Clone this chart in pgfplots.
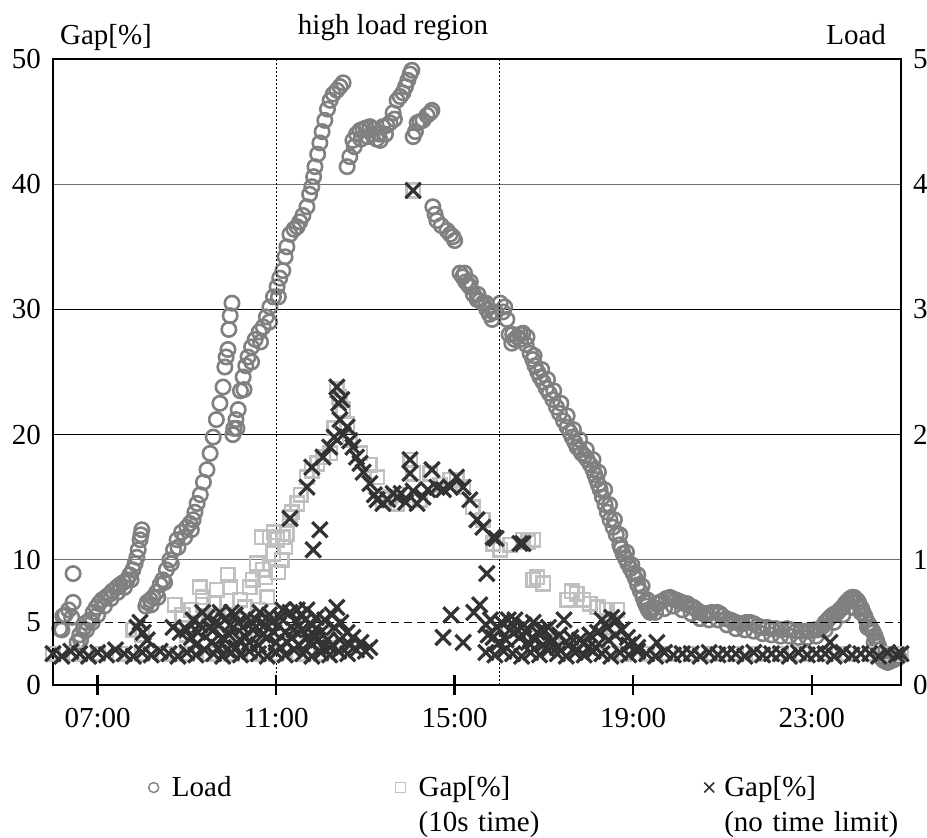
\documentclass[border=0pt]{standalone}
\usepackage{pgfplots}
\pgfplotsset{compat=1.18}
\usepackage{fontspec}
\setmainfont{Liberation Serif}
\definecolor{cLoad}{HTML}{808080}
\definecolor{cTen}{HTML}{C0C0C0}
\definecolor{cNo}{HTML}{333333}
\definecolor{cGrid}{HTML}{707070}
\newcommand{\fs}{\fontsize{14.5}{17.5}\selectfont}
\pgfplotsset{
  base/.style={scale only axis, width=424pt, height=313pt, xmin=6, xmax=25,
    /pgf/number format/assume math mode=true},
  loadst/.style={only marks, mark=o, color=cLoad, mark size=3.6pt, line width=1.3pt},
  tenst/.style={only marks, mark=square, color=cTen, mark size=3.4pt, line width=1.3pt},
  nost/.style={only marks, mark=x, color=cNo, mark size=5.4pt, line width=1.6pt},
  load legend/.style={legend image code/.code={\path (-4pt,0) (6.5pt,0); \draw[##1,mark size=2.5pt,line width=0.7pt] plot coordinates {(0pt,4.5pt)};}},
  ten legend/.style={legend image code/.code={\path (-4pt,0) (6.5pt,0); \draw[##1,mark size=2.5pt,line width=0.7pt] plot coordinates {(0pt,4.5pt)};}},
  no legend/.style={legend image code/.code={\path (-4pt,0) (4.75pt,0); \draw[##1,mark size=3.5pt,line width=0.8pt] plot coordinates {(0pt,4.5pt)};}},
}
\begin{document}
\begin{tikzpicture}[font=\fs]
% ---------- Load (right axis) ----------
\begin{axis}[base, ymin=0, ymax=5, hide x axis, axis y line*=right,
  ytick={0,1,2,3,4,5}, yticklabels={0,1,2,3,4,5}, ytick style={draw=none},
  yticklabel style={xshift=2.5pt}, axis line style={line width=0.8pt}]
\draw[cGrid, line width=0.6pt] (axis cs:6,1) -- (axis cs:25,1);
\draw[black, line width=0.5pt] (axis cs:6,2) -- (axis cs:25,2);
\draw[black, line width=0.5pt] (axis cs:6,3) -- (axis cs:25,3);
\draw[cGrid, line width=0.6pt] (axis cs:6,4) -- (axis cs:25,4);
\addplot[loadst] coordinates {
(6.15,0.45)(6.20,0.44)(6.22,0.55)(6.27,0.56)(6.35,0.60)(6.42,0.54)(6.45,0.66)(6.45,0.89)
(6.54,0.34)(6.60,0.40)(6.68,0.45)(6.75,0.50)(6.83,0.52)(6.90,0.58)(6.97,0.62)(7.03,0.65)
(7.10,0.68)(7.18,0.70)(7.25,0.72)(7.33,0.75)(7.43,0.78)(7.50,0.80)(7.58,0.82)(7.66,0.84)
(7.72,0.88)(7.79,0.92)(7.84,0.97)(7.88,1.02)(7.91,1.08)(7.95,1.16)(7.97,1.20)(7.99,1.24)
(6.62,0.36)(6.75,0.44)(6.88,0.50)(7.00,0.56)(7.15,0.63)(7.30,0.69)(7.45,0.74)(7.60,0.78)(7.75,0.84)
(8.08,0.63)(8.11,0.66)(8.18,0.68)(8.24,0.70)(8.32,0.74)(8.40,0.80)(8.46,0.84)(8.54,0.92)
(8.62,1.00)(8.70,1.08)(8.78,1.16)(8.88,1.22)(9.00,1.26)(9.07,1.29)(9.14,1.32)(9.18,1.38)
(8.20,0.64)(8.35,0.70)(8.50,0.82)(8.65,0.97)(8.80,1.10)(8.95,1.18)(9.10,1.24)
(9.23,1.45)(9.30,1.52)(9.37,1.62)(9.45,1.72)(9.52,1.85)(9.59,1.98)(9.66,2.12)(9.74,2.25)
(9.81,2.38)(9.85,2.54)(9.88,2.62)(9.92,2.68)(9.94,2.84)(9.97,2.95)(10.01,3.05)
(10.03,2.00)(10.05,2.05)(10.10,2.12)(10.15,2.20)(10.20,2.35)(10.26,2.46)(10.32,2.55)
(10.37,2.62)(10.45,2.70)(10.53,2.76)(10.62,2.82)(10.71,2.86)(10.78,2.94)(10.86,3.02)
(10.12,2.05)(10.28,2.36)(10.45,2.58)(10.65,2.74)(10.85,2.90)(11.05,3.10)
(10.94,3.10)(11.02,3.18)(11.08,3.25)(11.15,3.31)(11.20,3.42)(11.24,3.50)(11.31,3.60)
(11.40,3.64)(11.47,3.66)(11.53,3.70)(11.60,3.75)(11.69,3.82)(11.75,3.92)(11.80,3.98)
(11.84,4.06)(11.87,4.14)(11.93,4.24)(11.98,4.33)(12.03,4.42)(12.09,4.51)(12.15,4.60)
(12.21,4.67)(12.28,4.72)(12.36,4.75)(12.43,4.78)(12.50,4.81)
(12.59,4.14)(12.65,4.22)(12.72,4.35)(12.80,4.40)(12.88,4.43)(12.95,4.44)(13.02,4.45)
(13.10,4.46)(13.20,4.44)(13.30,4.40)(13.33,4.35)(13.39,4.46)(13.48,4.47)(13.55,4.49)
(12.75,4.30)(12.90,4.36)(13.05,4.38)(13.15,4.40)(13.25,4.36)(13.45,4.40)(13.65,4.52)
(13.62,4.57)(13.71,4.67)(13.78,4.70)(13.84,4.73)(13.90,4.78)(13.95,4.83)(14.00,4.88)(14.04,4.91)
(14.07,4.38)(14.12,4.42)(14.16,4.49)(14.22,4.50)(14.29,4.51)(14.38,4.55)(14.45,4.57)(14.49,4.59)
(14.51,3.82)(14.56,3.76)(14.60,3.71)(14.70,3.67)(14.83,3.63)(14.90,3.60)(14.96,3.58)(15.00,3.55)
(15.12,3.29)(15.18,3.26)(15.25,3.22)(15.30,3.20)(15.34,3.18)(15.42,3.12)(15.50,3.08)(15.56,3.07)
(15.63,3.05)(15.72,3.00)(15.78,2.96)(15.84,2.92)(15.92,2.98)(16.02,3.05)(16.08,2.98)(16.17,2.92)
(16.22,2.80)(16.28,2.73)(16.34,2.76)(16.40,2.78)(16.47,2.80)(16.53,2.81)(16.60,2.72)(16.69,2.65)
(16.75,2.60)(16.80,2.55)(16.86,2.50)(16.91,2.46)
(16.98,2.42)(17.05,2.37)(17.12,2.33)(17.20,2.28)(17.28,2.22)(17.35,2.17)(17.44,2.11)
(17.52,2.06)(17.58,2.02)(17.63,1.98)(17.69,1.94)(17.74,1.90)(17.80,1.88)(17.85,1.85)
(17.91,1.83)(17.97,1.80)(18.04,1.76)(18.10,1.72)(18.14,1.68)
(18.18,1.64)(18.22,1.60)(18.26,1.56)(18.31,1.50)(18.37,1.44)(18.42,1.38)(18.48,1.32)
(18.55,1.26)(18.62,1.20)(18.70,1.12)(18.73,1.09)
(18.77,1.05)(18.83,1.01)(18.88,0.97)(18.94,0.93)(19.00,0.89)(19.05,0.85)(19.10,0.80)
(19.16,0.75)(19.22,0.70)(19.26,0.66)(19.30,0.63)(19.34,0.60)(19.38,0.58)(19.45,0.62)
(15.22,3.29)(15.35,3.22)(15.52,3.12)(15.70,3.05)(15.85,2.98)(16.12,3.02)(16.30,2.80)
(16.48,2.76)(16.62,2.78)(16.78,2.63)(16.95,2.52)(17.08,2.44)(17.22,2.35)(17.38,2.25)
(17.52,2.15)(17.66,2.04)(17.80,1.96)(17.95,1.88)(18.10,1.80)(18.22,1.70)(18.36,1.56)
(18.47,1.44)(18.58,1.32)(18.70,1.20)(18.85,1.06)(18.97,0.96)(19.10,0.88)(19.20,0.79)
(19.32,0.68)(19.42,0.60)
(19.53,0.65)(19.59,0.66)(19.65,0.67)(19.74,0.69)(19.82,0.70)(19.88,0.69)(19.95,0.68)(20.02,0.67)
(20.08,0.66)(20.15,0.65)(20.21,0.65)(20.28,0.63)(20.35,0.62)(20.42,0.60)
(20.50,0.58)(20.57,0.57)(20.65,0.57)(20.76,0.58)(20.88,0.58)(20.94,0.57)(21.00,0.55)
(21.08,0.53)(21.17,0.52)(21.23,0.51)(21.30,0.50)(21.38,0.49)(21.45,0.49)(21.53,0.50)
(21.62,0.50)(21.70,0.49)(21.80,0.47)(21.90,0.46)(22.00,0.46)(22.10,0.45)(22.20,0.45)(22.32,0.44)
(22.45,0.45)(22.55,0.44)(22.65,0.43)(22.77,0.43)(22.89,0.43)(22.97,0.43)
(23.05,0.44)(23.12,0.44)(23.19,0.45)(23.25,0.47)(23.30,0.50)(23.36,0.52)(23.41,0.54)
(23.47,0.56)(23.52,0.57)(23.58,0.58)(23.63,0.60)(23.69,0.62)(23.75,0.65)(23.80,0.67)
(23.86,0.69)(23.90,0.70)(23.95,0.70)(24.01,0.68)(24.05,0.66)(24.08,0.63)(24.12,0.61)
(24.15,0.58)(24.19,0.55)(24.22,0.52)(24.27,0.49)(24.31,0.46)(24.35,0.44)
(24.38,0.42)(24.42,0.39)(24.46,0.35)(24.50,0.31)(24.53,0.28)(24.57,0.24)(24.60,0.20)
(24.65,0.19)(24.70,0.18)(24.76,0.19)(24.82,0.20)(24.88,0.21)(24.95,0.22)
(19.50,0.58)(19.70,0.61)(19.90,0.63)(20.10,0.60)(20.30,0.57)(20.50,0.53)(20.70,0.52)
(20.90,0.52)(21.10,0.48)(21.30,0.45)(21.50,0.44)(21.70,0.43)(21.90,0.41)(22.10,0.40)
(22.30,0.39)(22.50,0.39)(22.70,0.38)(22.90,0.38)(23.10,0.39)(23.30,0.44)(23.50,0.50)
(23.70,0.56)(23.90,0.62)(24.10,0.58)(24.25,0.46)(24.40,0.34)(24.55,0.22)
};
\end{axis}
% ---------- Gap (left axis) ----------
\begin{axis}[base, ymin=0, ymax=50,
  ytick={0,5,10,20,30,40,50}, yticklabels={0,5,10,20,30,40,50},
  ytick pos=left, ytick style={draw=none}, yticklabel style={xshift=2.5pt},
  xtick={7,11,15,19,23}, xticklabels={07:00,11:00,15:00,19:00,23:00},
  xticklabel style={yshift=-3pt},
  xtick pos=bottom, tick align=center, major tick length=10pt,
  xtick style={line width=1.2pt, black},
  axis line style={line width=0.8pt},
  legend columns=3,
  legend style={draw=none, fill=none, inner sep=0pt, column sep=0pt,
    at={(0,0)}, anchor=north west, xshift=45.5pt, yshift=-43.5pt,
    cells={anchor=base west, inner sep=0pt}}]
\addlegendimage{loadst, load legend}
\addlegendentry[text width=107.5pt]{Load}
\addplot[tenst, ten legend] coordinates {
(6.0,2.5)(6.5,2.5)(7.0,2.5)(7.5,2.5)(8.0,2.5)(8.5,2.5)(9.0,2.5)(9.5,2.5)(10.0,2.5)(10.5,2.5)
(11.0,2.5)(11.5,2.5)(12.0,2.5)(18.8,2.5)(19.3,2.5)(19.8,2.5)(20.3,2.5)(20.8,2.5)(21.3,2.5)
(21.8,2.5)(22.3,2.5)(22.8,2.5)(23.3,2.5)(23.8,2.5)(24.3,2.5)(24.7,2.5)(25.0,2.5)
(7.8,4.4)(8.0,4.0)(8.73,6.4)(9.29,7.8)(9.36,7.0)(9.36,6.4)(9.67,7.6)(9.92,8.8)(9.97,7.8)
(10.19,6.8)(10.41,7.8)(10.48,8.4)(10.57,9.7)(10.68,11.8)(10.80,7.0)(10.86,11.8)(10.93,10.5)
(11.02,11.6)(11.13,10.0)(11.15,11.8)(11.20,11.0)(11.24,12.1)(11.31,13.4)(11.35,13.8)
(11.47,14.5)(11.55,15.2)(11.69,16.6)(11.80,17.1)(11.92,17.7)(12.05,18.2)(12.21,18.5)
(12.30,20.5)(12.36,23.6)(12.40,23.0)(12.43,22.8)(12.50,22.0)(12.59,20.8)(12.65,19.6)
(12.88,18.5)(13.10,17.6)(13.26,16.6)(13.39,14.8)(13.55,15.0)(13.71,14.5)(13.85,15.2)
(14.00,18.0)(14.07,16.9)(14.22,14.8)(14.45,16.9)(14.67,16.0)(14.90,16.4)(15.05,16.4)
(15.19,15.8)(15.41,14.2)(15.63,13.2)(15.86,11.3)(16.02,10.8)(16.24,11.2)(16.53,11.6)
(16.76,11.6)(16.65,11.4)(16.76,8.4)(16.98,8.1)(16.85,8.6)(17.52,6.8)(17.62,7.5)(17.74,7.3)
(17.88,6.8)(18.03,6.5)(18.20,6.2)(18.41,6.0)(18.64,6.0)(18.55,4.6)(14.07,39.5)
(9.0,4.0)(9.8,5.0)(10.3,4.5)(10.9,5.0)(11.6,4.5)(12.2,4.0)(16.2,4.5)(17.2,3.5)(18.2,3.5)
(8.9,5.6)(9.1,6.0)(9.5,5.5)(9.6,6.5)(10.0,5.6)(10.3,6.2)(10.6,6.0)(10.75,8.6)(11.05,9.0)
(10.95,12.2)(10.7,9.2)(9.4,5.2)
};
\addlegendentry[text width=138.5pt, align=left]{Gap[\%]\\(10s time)}
\addplot[nost, no legend] coordinates {
(6.0,2.5)(6.2,2.3)(6.4,2.7)(6.6,2.5)(6.8,2.3)(7.0,2.6)(7.2,2.4)(7.4,2.8)(7.6,2.5)(7.8,2.3)
(8.0,2.6)(8.2,2.4)(8.4,2.7)(8.6,2.5)(8.8,2.3)(9.0,2.6)(9.2,2.4)(9.4,2.8)(9.6,2.5)(9.8,2.3)
(10.0,2.6)(10.2,2.4)(10.4,2.7)(10.6,2.5)(10.8,2.3)(11.0,2.6)(11.2,2.4)(11.4,2.8)(11.6,2.5)
(11.8,2.3)(12.0,2.6)(12.2,2.4)(12.4,2.7)(12.6,2.5)(12.8,2.8)(13.0,2.7)
(15.7,2.6)(15.9,2.4)(16.1,2.7)(16.3,2.5)(16.5,2.3)(16.7,2.6)(16.9,2.4)(17.1,2.8)(17.3,2.5)
(17.5,2.3)(17.7,2.6)(17.9,2.4)(18.1,2.7)(18.3,2.5)(18.5,2.3)(18.7,2.6)(18.9,2.4)(19.1,2.7)
(19.3,2.5)(19.5,2.3)(19.7,2.6)(19.9,2.4)(20.1,2.5)(20.3,2.5)(20.5,2.3)(20.7,2.6)(20.9,2.4)
(21.1,2.5)(21.3,2.5)(21.5,2.3)(21.7,2.6)(21.9,2.4)(22.1,2.5)(22.3,2.5)(22.5,2.3)(22.7,2.6)
(22.9,2.4)(23.1,2.5)(23.3,2.5)(23.5,2.3)(23.7,2.6)(23.9,2.4)(24.1,2.5)(24.3,2.5)(24.5,2.3)
(24.7,2.6)(24.9,2.4)(25.0,2.5)
(7.88,4.6)(7.95,5.0)(8.02,4.2)(8.11,3.6)(8.69,4.6)(8.85,4.2)(9.14,5.2)(9.29,4.8)(9.45,5.4)
(9.59,4.4)(9.74,5.8)(9.90,2.8)(9.97,4.8)(10.08,5.6)(10.19,3.6)(10.35,5.4)(10.48,4.4)
(10.64,5.8)(10.80,3.8)(10.91,5.0)(11.09,5.4)(11.20,4.2)(11.31,5.8)(11.47,6.0)(11.58,4.4)
(11.69,6.0)(11.80,4.8)(11.94,3.6)(12.09,5.2)(12.21,3.0)(12.36,6.2)(12.43,3.6)(12.59,4.2)
(12.72,3.8)(13.10,3.0)
(9.0,4.4)(9.2,3.2)(9.35,5.8)(9.55,3.4)(9.65,5.0)(9.8,3.8)(10.0,5.8)(10.1,3.0)(10.25,4.6)
(10.4,3.4)(10.55,5.2)(10.7,4.0)(10.85,5.6)(11.0,3.4)(11.05,4.8)(11.15,6.0)(11.25,3.4)
(11.4,4.4)(11.5,3.2)(11.65,5.2)(11.75,3.4)(11.9,5.4)(12.0,4.2)(12.15,3.6)(12.3,4.6)
(9.1,3.8)(9.5,4.6)(9.85,5.2)(10.3,3.9)(10.75,4.8)(11.1,3.0)(11.45,5.0)(11.85,4.0)(12.25,5.6)
(9.25,4.2)(9.7,3.0)(9.95,4.0)(10.15,5.0)(10.45,5.0)(10.6,3.2)(10.95,4.2)(11.35,3.8)
(11.55,5.6)(11.7,3.8)(12.05,3.0)(12.45,5.0)(12.65,3.2)(12.9,3.4)
(11.31,13.3)(11.69,15.8)(11.80,17.4)(11.98,12.4)(11.83,10.8)
(12.05,18.2)(12.20,19.0)(12.30,19.8)(12.36,23.8)(12.40,22.5)(12.43,21.2)(12.47,22.8)
(12.50,20.0)(12.59,20.6)(12.65,19.5)(12.72,19.0)(12.80,18.2)(12.88,17.7)(12.95,17.0)
(13.10,16.1)(13.20,15.2)(13.26,14.8)(13.39,14.5)(13.50,14.8)(13.62,15.3)(13.71,15.0)
(13.80,15.3)(13.90,14.6)(14.00,18.0)(14.00,16.9)(14.07,15.5)(14.16,14.5)(14.29,15.0)
(14.40,15.6)(14.49,17.2)(14.60,15.8)(14.75,15.6)(14.90,15.8)(15.04,16.6)(15.19,15.8)
(15.34,14.8)(15.50,13.2)(15.63,12.6)(15.86,11.8)(15.93,11.7)(16.46,11.3)(16.53,11.3)
(14.07,39.5)
(15.72,8.9)(14.74,3.8)(14.92,5.6)(15.19,3.4)(15.56,6.4)(15.43,5.8)
(15.70,4.8)(15.80,5.2)(15.86,3.8)(15.95,4.6)(16.05,5.0)(16.15,3.6)(16.24,4.4)(16.35,5.2)
(16.45,3.8)(16.55,4.8)(16.65,3.4)(16.76,5.0)(16.85,4.2)(16.98,3.2)(17.10,4.6)(17.20,3.6)
(17.30,3.0)(17.45,5.2)(17.60,3.8)(17.75,2.8)(17.90,3.4)(18.03,4.0)(18.15,3.0)(18.30,5.2)
(18.41,4.6)(18.52,5.4)(18.64,5.2)(18.75,4.4)(18.87,3.8)(19.00,3.4)(19.10,3.0)(19.53,3.4)
(15.75,4.0)(16.0,3.4)(16.2,5.2)(16.4,4.4)(16.6,4.2)(16.8,3.6)(17.0,4.4)(17.15,3.4)
(17.35,4.0)(17.55,3.2)(17.8,3.6)(18.0,3.0)(18.2,4.2)(18.45,3.6)(18.6,4.0)(18.9,3.2)
(23.41,3.4)
};
\addlegendentry[text width=100pt, align=left]{Gap[\%]\\(no time limit)}
\draw[black, line width=0.8pt, dash pattern=on 4pt off 2.5pt] (axis cs:6,5) -- (axis cs:25,5);
\draw[black, line width=0.5pt, dash pattern=on 1pt off 1pt] (axis cs:11,0) -- (axis cs:11,50);
\draw[black, line width=0.5pt, dash pattern=on 1pt off 1pt] (axis cs:16,0) -- (axis cs:16,50);
\coordinate (SW) at (rel axis cs:0,0);
\coordinate (T1) at (axis cs:7,0);
\coordinate (T2) at (axis cs:11,0);
\coordinate (T3) at (axis cs:15,0);
\coordinate (T4) at (axis cs:19,0);
\coordinate (T5) at (axis cs:23,0);
\end{axis}
\draw[line width=1.2pt] ([xshift=-4.5pt]T1) -- ([xshift=4.5pt]T1);
\draw[line width=1.2pt] ([xshift=-4.5pt]T2) -- ([xshift=4.5pt]T2);
\draw[line width=1.2pt] ([xshift=-4.5pt]T3) -- ([xshift=4.5pt]T3);
\draw[line width=1.2pt] ([xshift=-4.5pt]T4) -- ([xshift=4.5pt]T4);
\draw[line width=1.2pt] ([xshift=-4.5pt]T5) -- ([xshift=4.5pt]T5);
\node[anchor=base] at ([xshift=170pt,yshift=325pt]SW) {high load region};
\node[anchor=base west] at ([xshift=0pt,yshift=320pt]SW) {Gap[\%]};
\node[anchor=base east] at ([xshift=420pt,yshift=320pt]SW) {Load};
\pgfresetboundingbox
\path[use as bounding box] ([xshift=-26.5pt,yshift=-76pt]SW) rectangle ([xshift=437pt,yshift=342.5pt]SW);
\end{tikzpicture}
\end{document}
